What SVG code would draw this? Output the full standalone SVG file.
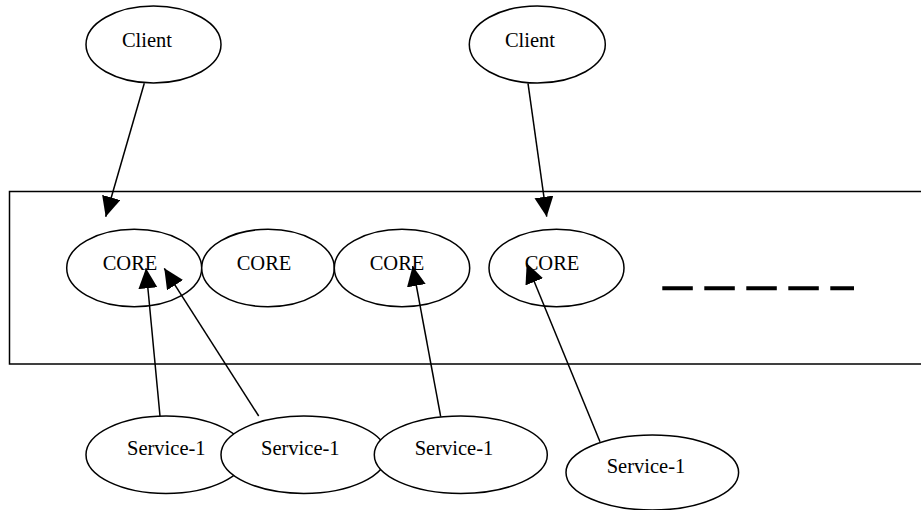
<svg xmlns="http://www.w3.org/2000/svg" width="921" height="510" viewBox="0 0 921 510">
<defs>
<marker id="ah" markerUnits="userSpaceOnUse" markerWidth="22" markerHeight="20" refX="20" refY="9.5" orient="auto">
<path d="M0,0 L20,9.5 L0,19 z" fill="#000"/>
</marker>
<style>
ellipse{fill:#fff;stroke:#000;stroke-width:1.5}
text{font-family:"Liberation Serif","Times New Roman",serif;font-size:20.5px;fill:#000;text-anchor:middle}
.c{stroke:#000;stroke-width:1.5;fill:none;marker-end:url(#ah)}
</style>
</defs>
<rect id="frame" x="9.5" y="191.5" width="930" height="172.5" fill="none" stroke="#000" stroke-width="1.5"/>
<g id="client1"><ellipse cx="153.5" cy="44.5" rx="67.5" ry="38.5"/><text x="147" y="47">Client</text></g>
<g id="client2"><ellipse cx="537.3" cy="44.5" rx="68" ry="38.5"/><text x="530" y="47">Client</text></g>
<g id="core1"><ellipse cx="134.2" cy="268" rx="67.5" ry="38.7"/><text x="130" y="269.5">CORE</text></g>
<g id="core2"><ellipse cx="268" cy="268" rx="66.3" ry="38.7"/><text x="264" y="269.5">CORE</text></g>
<g id="core3"><ellipse cx="402" cy="268" rx="67.7" ry="38.7"/><text x="397" y="269.5">CORE</text></g>
<g id="core4"><ellipse cx="556.5" cy="268" rx="67.5" ry="38.7"/><text x="552" y="269.5">CORE</text></g>
<g id="dashes"><line x1="662.3" y1="288.3" x2="854" y2="288.3" stroke="#000" stroke-width="4" stroke-dasharray="30.5 11.5"/></g>
<g id="service1"><ellipse cx="166" cy="454.7" rx="80" ry="38.7"/><text x="166.3" y="455">Service-1</text></g>
<g id="service2"><ellipse cx="303.8" cy="454.7" rx="82.8" ry="38.7"/><text x="300.3" y="455">Service-1</text></g>
<g id="service3"><ellipse cx="460.8" cy="454.7" rx="86.5" ry="38.7"/><text x="454" y="455">Service-1</text></g>
<g id="service4"><ellipse cx="652.3" cy="472.5" rx="86.3" ry="37.5"/><text x="646" y="473.3">Service-1</text></g>
<g id="connectors">
<line class="c" x1="144.3" y1="83.3" x2="105.7" y2="216.7"/>
<line class="c" x1="528" y1="83.3" x2="546.7" y2="216.7"/>
<line class="c" x1="160" y1="416" x2="146" y2="268.3"/>
<line class="c" x1="258.7" y1="416" x2="164.3" y2="268.3"/>
<line class="c" x1="440.7" y1="416.7" x2="412.7" y2="266"/>
<line class="c" x1="600" y1="441.7" x2="526.7" y2="263.3"/>
</g>
</svg>
